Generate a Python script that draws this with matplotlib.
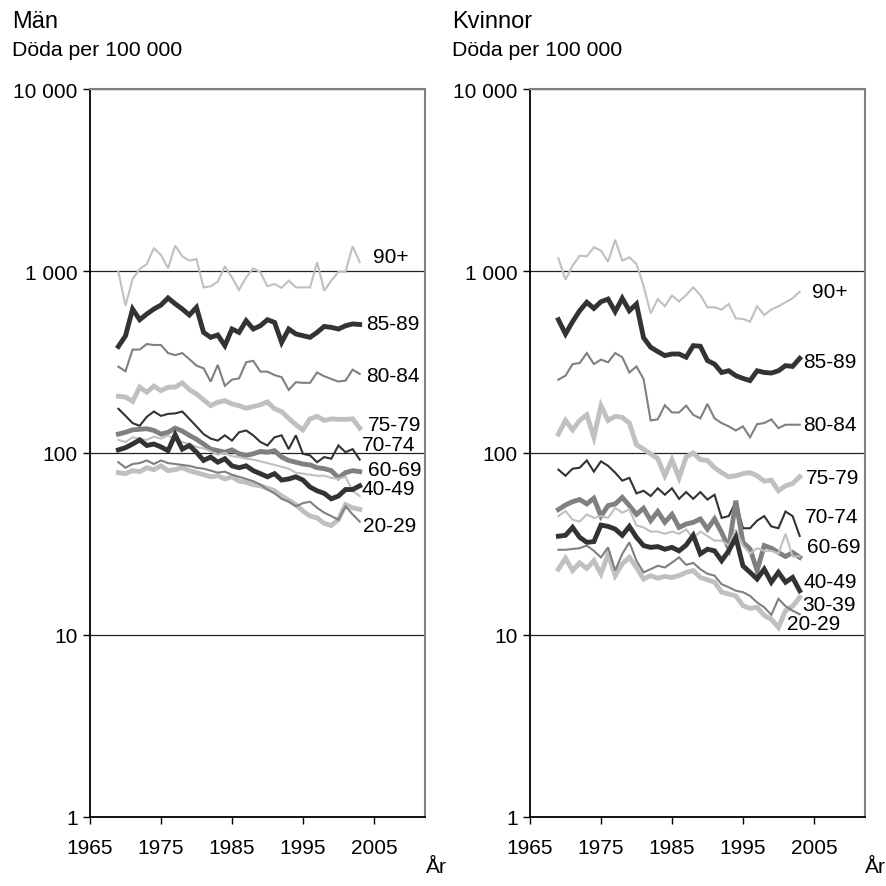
import numpy as np
import matplotlib.pyplot as plt

plt.rcParams['font.family'] = ['Liberation Sans', 'DejaVu Sans']

years = np.arange(1969, 2004)

age_groups = ["90+", "85-89", "80-84", "75-79", "70-74", "60-69", "50-59", "40-49", "30-39", "20-29"]

# men, deaths per 100 000
man_90 = [990, 645, 903, 1025, 1092, 1333, 1225, 1035, 1378, 1205, 1140, 1163, 813, 824, 873, 1061, 922, 787,
          922, 1035, 984, 824, 849, 808, 885, 813, 813, 813, 1117, 780, 885, 990, 990, 1368, 1117]
man_85 = [385, 440, 618, 540, 580, 618, 650, 711, 660, 618, 573, 631, 460, 432, 445, 389, 480, 460,
          533, 480, 500, 540, 522, 405, 480, 451, 441, 432, 460, 496, 490, 480, 500, 512, 508]
man_80 = [298, 281, 370, 370, 397, 392, 392, 354, 345, 354, 328, 302, 292, 247, 305, 234, 253, 257,
          315, 321, 280, 280, 268, 261, 222, 245, 243, 243, 277, 264, 255, 247, 250, 287, 272]
man_75 = [205, 203, 192, 230, 216, 233, 220, 230, 230, 243, 223, 211, 196, 182, 190, 194, 186, 182,
          176, 180, 184, 191, 175, 169, 155, 143, 134, 154, 159, 151, 154, 153, 153, 154, 137]
man_70 = [175, 160, 146, 141, 158, 169, 160, 164, 165, 169, 154, 140, 127, 120, 117, 125, 117, 130,
          133, 125, 115, 110, 122, 125, 105, 125, 99, 97, 89, 95, 93, 110, 101, 105, 92]
man_60 = [127, 130, 134, 135, 136, 133, 127, 130, 137, 132, 125, 119, 112, 105, 103, 101, 104, 99,
          97, 99, 102, 101, 103, 95, 91, 89, 87, 86, 83, 82, 80, 73, 78, 80, 79]
man_50 = [118, 115, 122, 120, 118, 123, 120, 125, 118, 115, 112, 108, 106, 102, 98, 100, 96, 95,
          93, 92, 90, 88, 86, 84, 82, 78, 77, 76, 75, 75, 73, 72, 74, 62, 58]
man_40 = [104, 107, 112, 118, 110, 112, 108, 103, 126, 105, 110, 101, 91, 95, 89, 93, 85, 83,
          85, 80, 77, 74, 77, 71, 72, 74, 71, 65, 62, 60, 56, 58, 63, 63, 66]
man_30 = [78, 77, 80, 79, 83, 81, 85, 80, 81, 83, 80, 78, 76, 74, 75, 72, 74, 70,
          69, 67, 66, 64, 62, 58, 55, 52, 48, 45, 44, 41, 40, 43, 52, 50, 49]
man_20 = [89, 83, 87, 88, 91, 87, 91, 88, 87, 86, 85, 83, 82, 80, 78, 79, 76, 74,
          72, 70, 67, 63, 60, 56, 54, 51, 53, 54, 50, 47, 45, 43, 51, 46, 42]

# women, deaths per 100 000
kv_90 = [1174, 896, 1070, 1213, 1204, 1350, 1294, 1125, 1484, 1140, 1189, 1092, 830, 585, 701, 640, 733, 680,
         738, 813, 738, 632, 632, 614, 659, 549, 545, 527, 640, 573, 614, 640, 673, 708, 770]
kv_85 = [540, 451, 527, 605, 673, 623, 678, 701, 598, 708, 605, 659, 430, 381, 361, 343, 350, 350,
         336, 389, 386, 322, 308, 277, 283, 266, 257, 250, 283, 277, 275, 283, 302, 299, 331]
kv_80 = [253, 266, 308, 312, 354, 308, 326, 315, 354, 336, 277, 299, 255, 151, 153, 183, 167, 167,
         182, 162, 155, 186, 155, 146, 140, 133, 140, 122, 144, 146, 153, 137, 143, 143, 143]
kv_75 = [127, 151, 134, 151, 162, 122, 182, 151, 159, 157, 146, 111, 105, 99, 93, 75, 92, 73,
         95, 100, 92, 91, 83, 78, 74, 75, 77, 78, 75, 70, 71, 62, 66, 68, 74]
kv_70 = [81, 75, 82, 83, 91, 79, 90, 85, 78, 70.5, 73, 60, 62, 58, 64, 59, 64, 56,
         61, 56, 61, 55.5, 59, 44, 45, 54, 38.6, 38.6, 42.5, 45, 39.5, 38.6, 47.7, 45, 35]
kv_60 = [48.9, 51.8, 54, 55.5, 52.5, 56.4, 45, 51.4, 52.5, 57, 51.4, 46, 49.7, 42.5, 47.7, 41.6, 46, 39,
         40.7, 41.6, 43.4, 38.2, 43.4, 36.6, 30, 54.7, 32.3, 29.7, 22.6, 31, 30, 28.4, 27, 28.4, 26.7]
kv_50 = [45, 48, 43, 42, 46, 44, 45, 44, 50, 47, 49, 40, 39, 37, 37, 36, 37, 36,
         38, 34, 37, 35, 33, 33, 31, 38, 31, 28, 30, 29, 29, 28, 36, 27, 27]
kv_40 = [34.9, 35.3, 39, 34.4, 32.3, 32.6, 40.2, 39.5, 38.2, 35.3, 39.5, 34.4, 31, 30.3, 30.6, 29.6, 30.3, 29,
         31.2, 35.3, 27.9, 29.6, 29, 25.6, 29, 34.4, 24, 22.1, 20.3, 23, 19.5, 22.1, 19.5, 20.7, 17.5]
kv_30 = [23, 26.4, 22.6, 24.9, 23.2, 25.6, 21.7, 27.9, 21.2, 24.6, 26.7, 23.5, 20.3, 21.2, 20.5, 21, 20.7, 21.2,
         22.1, 22.6, 20.7, 20.1, 19.5, 17.2, 16.8, 16.4, 14.5, 14, 14.2, 12.8, 12.2, 11, 13.6, 14.4, 16.1]
kv_20 = [29.4, 29.4, 29.7, 30, 31, 29, 26.7, 30.3, 22.6, 27.9, 32.3, 25.6, 22.1, 23, 24, 23.5, 25, 26.7,
         24.3, 24.9, 23, 21.7, 21.2, 19, 18.3, 17.5, 17.2, 16.4, 15.1, 14.2, 12.9, 15.8, 14.4, 13.6, 13]

man_series = [man_90, man_85, man_80, man_75, man_70, man_60, man_50, man_40, man_30, man_20]
kv_series = [kv_90, kv_85, kv_80, kv_75, kv_70, kv_60, kv_50, kv_40, kv_30, kv_20]

yticks = [1, 10, 100, 1000, 10000]
ytick_labels = ["1", "10", "100", "1 000", "10 000"]
xticks = [1965, 1975, 1985, 1995, 2005]

LIGHT = "#c0c0c0"
MID = "#808080"
DARK = "#333333"
styles = {
  "90+": (LIGHT, 1.5),
  "85-89": (DARK, 3.5),
  "80-84": (MID, 1.5),
  "75-79": (LIGHT, 3.5),
  "70-74": (DARK, 1.5),
  "60-69": (MID, 3.5),
  "50-59": (LIGHT, 1.5),
  "40-49": (DARK, 3.5),
  "30-39": (LIGHT, 3.5),
  "20-29": (MID, 1.5),
}

# where the group names sit, (year, value)
man_label_pos = {
  "90+": (2004.9, 1208), "85-89": (2003.9, 512), "80-84": (2003.9, 265), "75-79": (2004.2, 144),
  "70-74": (2003.3, 112), "60-69": (2004.2, 81), "40-49": (2003.3, 64), "20-29": (2003.5, 40),
}
kv_label_pos = {
  "90+": (2004.7, 767), "85-89": (2003.5, 320), "80-84": (2003.5, 144), "75-79": (2003.9, 73),
  "70-74": (2003.7, 44.5), "60-69": (2004.0, 30.5), "40-49": (2003.5, 19.8), "30-39": (2003.3, 14.8),
  "20-29": (2001.2, 11.5),
}

W, H = 886, 887
fig = plt.figure(figsize=(W / 100, H / 100), dpi=100)
ax_m = fig.add_axes([90 / W, 1 - 818 / H, 335 / W, 728 / H])
ax_k = fig.add_axes([530 / W, 1 - 818 / H, 335 / W, 728 / H])

def draw_panel(ax, series, label_pos, title, title_x):
  for name, vals in zip(age_groups, series):
    color, lw = styles[name]
    ax.plot(years, vals, color=color, lw=lw, solid_joinstyle="miter")
  for name, (x, y) in label_pos.items():
    ax.text(x, y, name, fontsize=15, ha="left", va="center")

  ax.set_yscale("log")
  ax.set_ylim(1, 10000)
  ax.set_xlim(1965, 2012.2)
  ax.set_yticks(yticks)
  ax.set_yticklabels(ytick_labels)
  ax.yaxis.set_minor_locator(plt.NullLocator())
  ax.set_xticks(xticks)
  ax.tick_params(axis="both", direction="out", length=5, width=1, labelsize=15, color="black")
  ax.tick_params(axis="x", pad=10)
  ax.tick_params(axis="y", pad=4)

  ax.set_axisbelow(True)
  ax.grid(axis="y", color="#222222", lw=0.9)
  for side in ["left", "bottom"]:
    ax.spines[side].set_color("black")
    ax.spines[side].set_linewidth(1.3)
  for side in ["top", "right"]:
    ax.spines[side].set_color("#808080")
    ax.spines[side].set_linewidth(1.5)

  fig.text(title_x / W, 1 - 22 / H, title, fontsize=17, ha="left", va="center")
  fig.text(title_x / W, 1 - 50 / H, "Döda per 100 000", fontsize=15.3, ha="left", va="center")

draw_panel(ax_m, man_series, man_label_pos, "Män", 12)
draw_panel(ax_k, kv_series, kv_label_pos, "Kvinnor", 452)

fig.text(436 / W, 1 - 868 / H, "År", fontsize=15, ha="center", va="center")
fig.text(875 / W, 1 - 868 / H, "År", fontsize=15, ha="center", va="center")

fig.savefig("out.png", dpi=100)
